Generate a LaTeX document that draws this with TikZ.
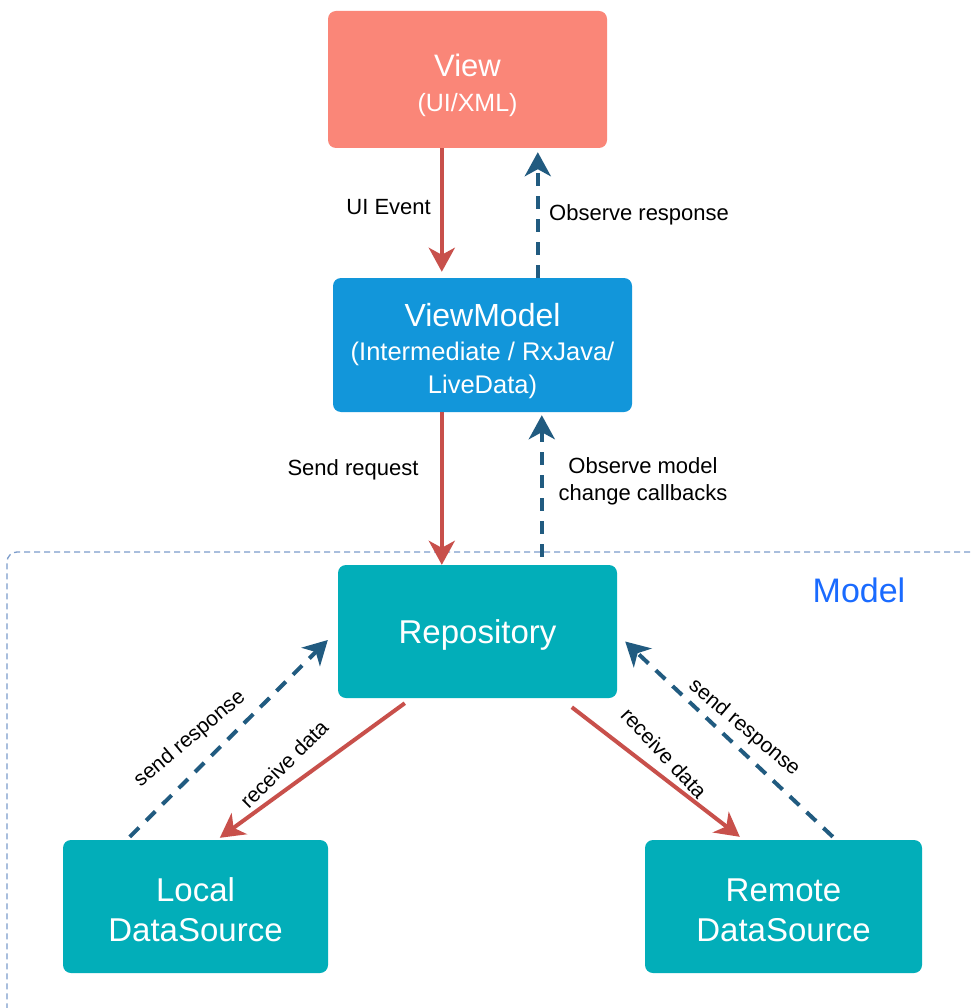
\documentclass[tikz,border=0pt]{standalone}
\usepackage{fontspec}
\setmainfont{Liberation Sans}
\usetikzlibrary{arrows.meta,calc}

\definecolor{viewfill}{HTML}{FA8678}
\definecolor{vmfill}{HTML}{1296DA}
\definecolor{modelfill}{HTML}{02AEB9}
\definecolor{reqred}{HTML}{C8504B}
\definecolor{obsblue}{HTML}{215B80}
\definecolor{groupline}{HTML}{7C9CCB}
\definecolor{grouplabel}{HTML}{1A6BFF}

\tikzset{
  boxshape/.style={rectangle, rounded corners=8pt, inner sep=0pt, draw=none},
  boxtext/.style={text=white, align=center, inner sep=0pt},
  lbl/.style={text=black, inner sep=0pt, font=\fontsize{22}{27}\selectfont},
  dlbl/.style={text=black, inner sep=0pt, font=\fontsize{21}{25}\selectfont},
  reqarrow/.style={draw=reqred, line width=4pt,
    -{Stealth[length=24pt,width=26pt,inset=7pt]}},
  obsarrow/.style={draw=obsblue, line width=4pt, dash pattern=on 13pt off 10pt,
    -{Stealth[length=24pt,width=26pt,inset=7pt]}},
}

\begin{document}
\begin{tikzpicture}[x=1pt,y=-1pt]
  \path[use as bounding box] (0,0) rectangle (971,1008);
  \clip (0,0) rectangle (971,1008);
  \fill[white] (0,0) rectangle (971,1008);

  % Model layer frame
  \node[rectangle, rounded corners=10pt, draw=groupline, line width=1.3pt,
        dash pattern=on 6pt off 4pt, minimum width=983pt, minimum height=478pt,
        inner sep=0pt] (model) at (498.5,791) {};
  \node[text=grouplabel, inner sep=0pt, font=\fontsize{34}{40}\selectfont]
        (model-label) at (859,590) {Model};

  % Boxes
  \node[boxshape, fill=viewfill, minimum width=279pt, minimum height=137pt]
        (view) at (467.5,79.5) {};
  \node[boxtext, font=\fontsize{25}{35}\selectfont] (view-text) at ($(view)+(0,6)$)
        {{\fontsize{31}{35}\selectfont View}\\(UI/XML)};

  \node[boxshape, fill=vmfill, minimum width=299pt, minimum height=134pt]
        (vm) at (482.5,345) {};
  \node[boxtext, font=\fontsize{25.5}{33.5}\selectfont] (vm-text) at ($(vm)+(0,6.5)$)
        {{\fontsize{32}{33.5}\selectfont ViewModel}\\(Intermediate / RxJava/\\LiveData)};

  \node[boxshape, fill=modelfill, minimum width=279pt, minimum height=133pt]
        (repo) at (477.5,631.5) {};
  \node[boxtext, font=\fontsize{33}{40}\selectfont] (repo-text) at ($(repo)+(0,3.5)$)
        {Repository};

  \node[boxshape, fill=modelfill, minimum width=265pt, minimum height=133pt]
        (local) at (195.5,906.5) {};
  \node[boxtext, font=\fontsize{33}{40}\selectfont] (local-text) at ($(local)+(0,3.5)$)
        {Local\\DataSource};

  \node[boxshape, fill=modelfill, minimum width=277pt, minimum height=133pt]
        (remote) at (783.5,906.5) {};
  \node[boxtext, font=\fontsize{33}{40}\selectfont] (remote-text) at ($(remote)+(0,3.5)$)
        {Remote\\DataSource};

  % View <-> ViewModel
  \draw[reqarrow] ($(view.south west)+(114,0)$) -- ($(vm.north west)+(109,-6)$);
  \draw[obsarrow] ($(vm.north west)+(205,0)$) -- ($(view.south west)+(210,4)$);
  \node[lbl, anchor=east] (ui-event) at (431,207) {UI Event};
  \node[lbl, anchor=west] (obs-resp) at (549,215) {Observe response};

  % ViewModel <-> Repository
  \draw[reqarrow] ($(vm.south west)+(109,0)$) -- ($(repo.north west)+(104,0)$);
  \draw[obsarrow] ($(repo.north west)+(204,-8)$) -- ($(vm.south west)+(209,3)$);
  \node[lbl] (send-req) at (353,470) {Send request};
  \node[lbl, align=center] (obs-model) at (643,481) {Observe model\\change callbacks};

  % Repository <-> local source
  \draw[reqarrow] ($(repo.south west)+(67,5)$) -- ($(local.north west)+(157,-2)$);
  \draw[obsarrow] ($(local.north west)+(67,-3)$) -- ($(repo.west)+(-10,8.5)$);
  \node[dlbl, rotate=40] (send-l) at (190,739) {send response};
  \node[dlbl, rotate=45] (recv-l) at (284,764) {receive data};

  % Repository <-> remote source
  \draw[reqarrow] ($(repo.south west)+(234,9)$) -- ($(remote.north west)+(95,-3)$);
  \draw[obsarrow] ($(remote.north west)+(188,-3)$) -- ($(repo.east)+(8,10)$);
  \node[dlbl, rotate=-47] (recv-r) at (664,753) {receive data};
  \node[dlbl, rotate=-40] (send-r) at (744,728) {send response};
\end{tikzpicture}
\end{document}
